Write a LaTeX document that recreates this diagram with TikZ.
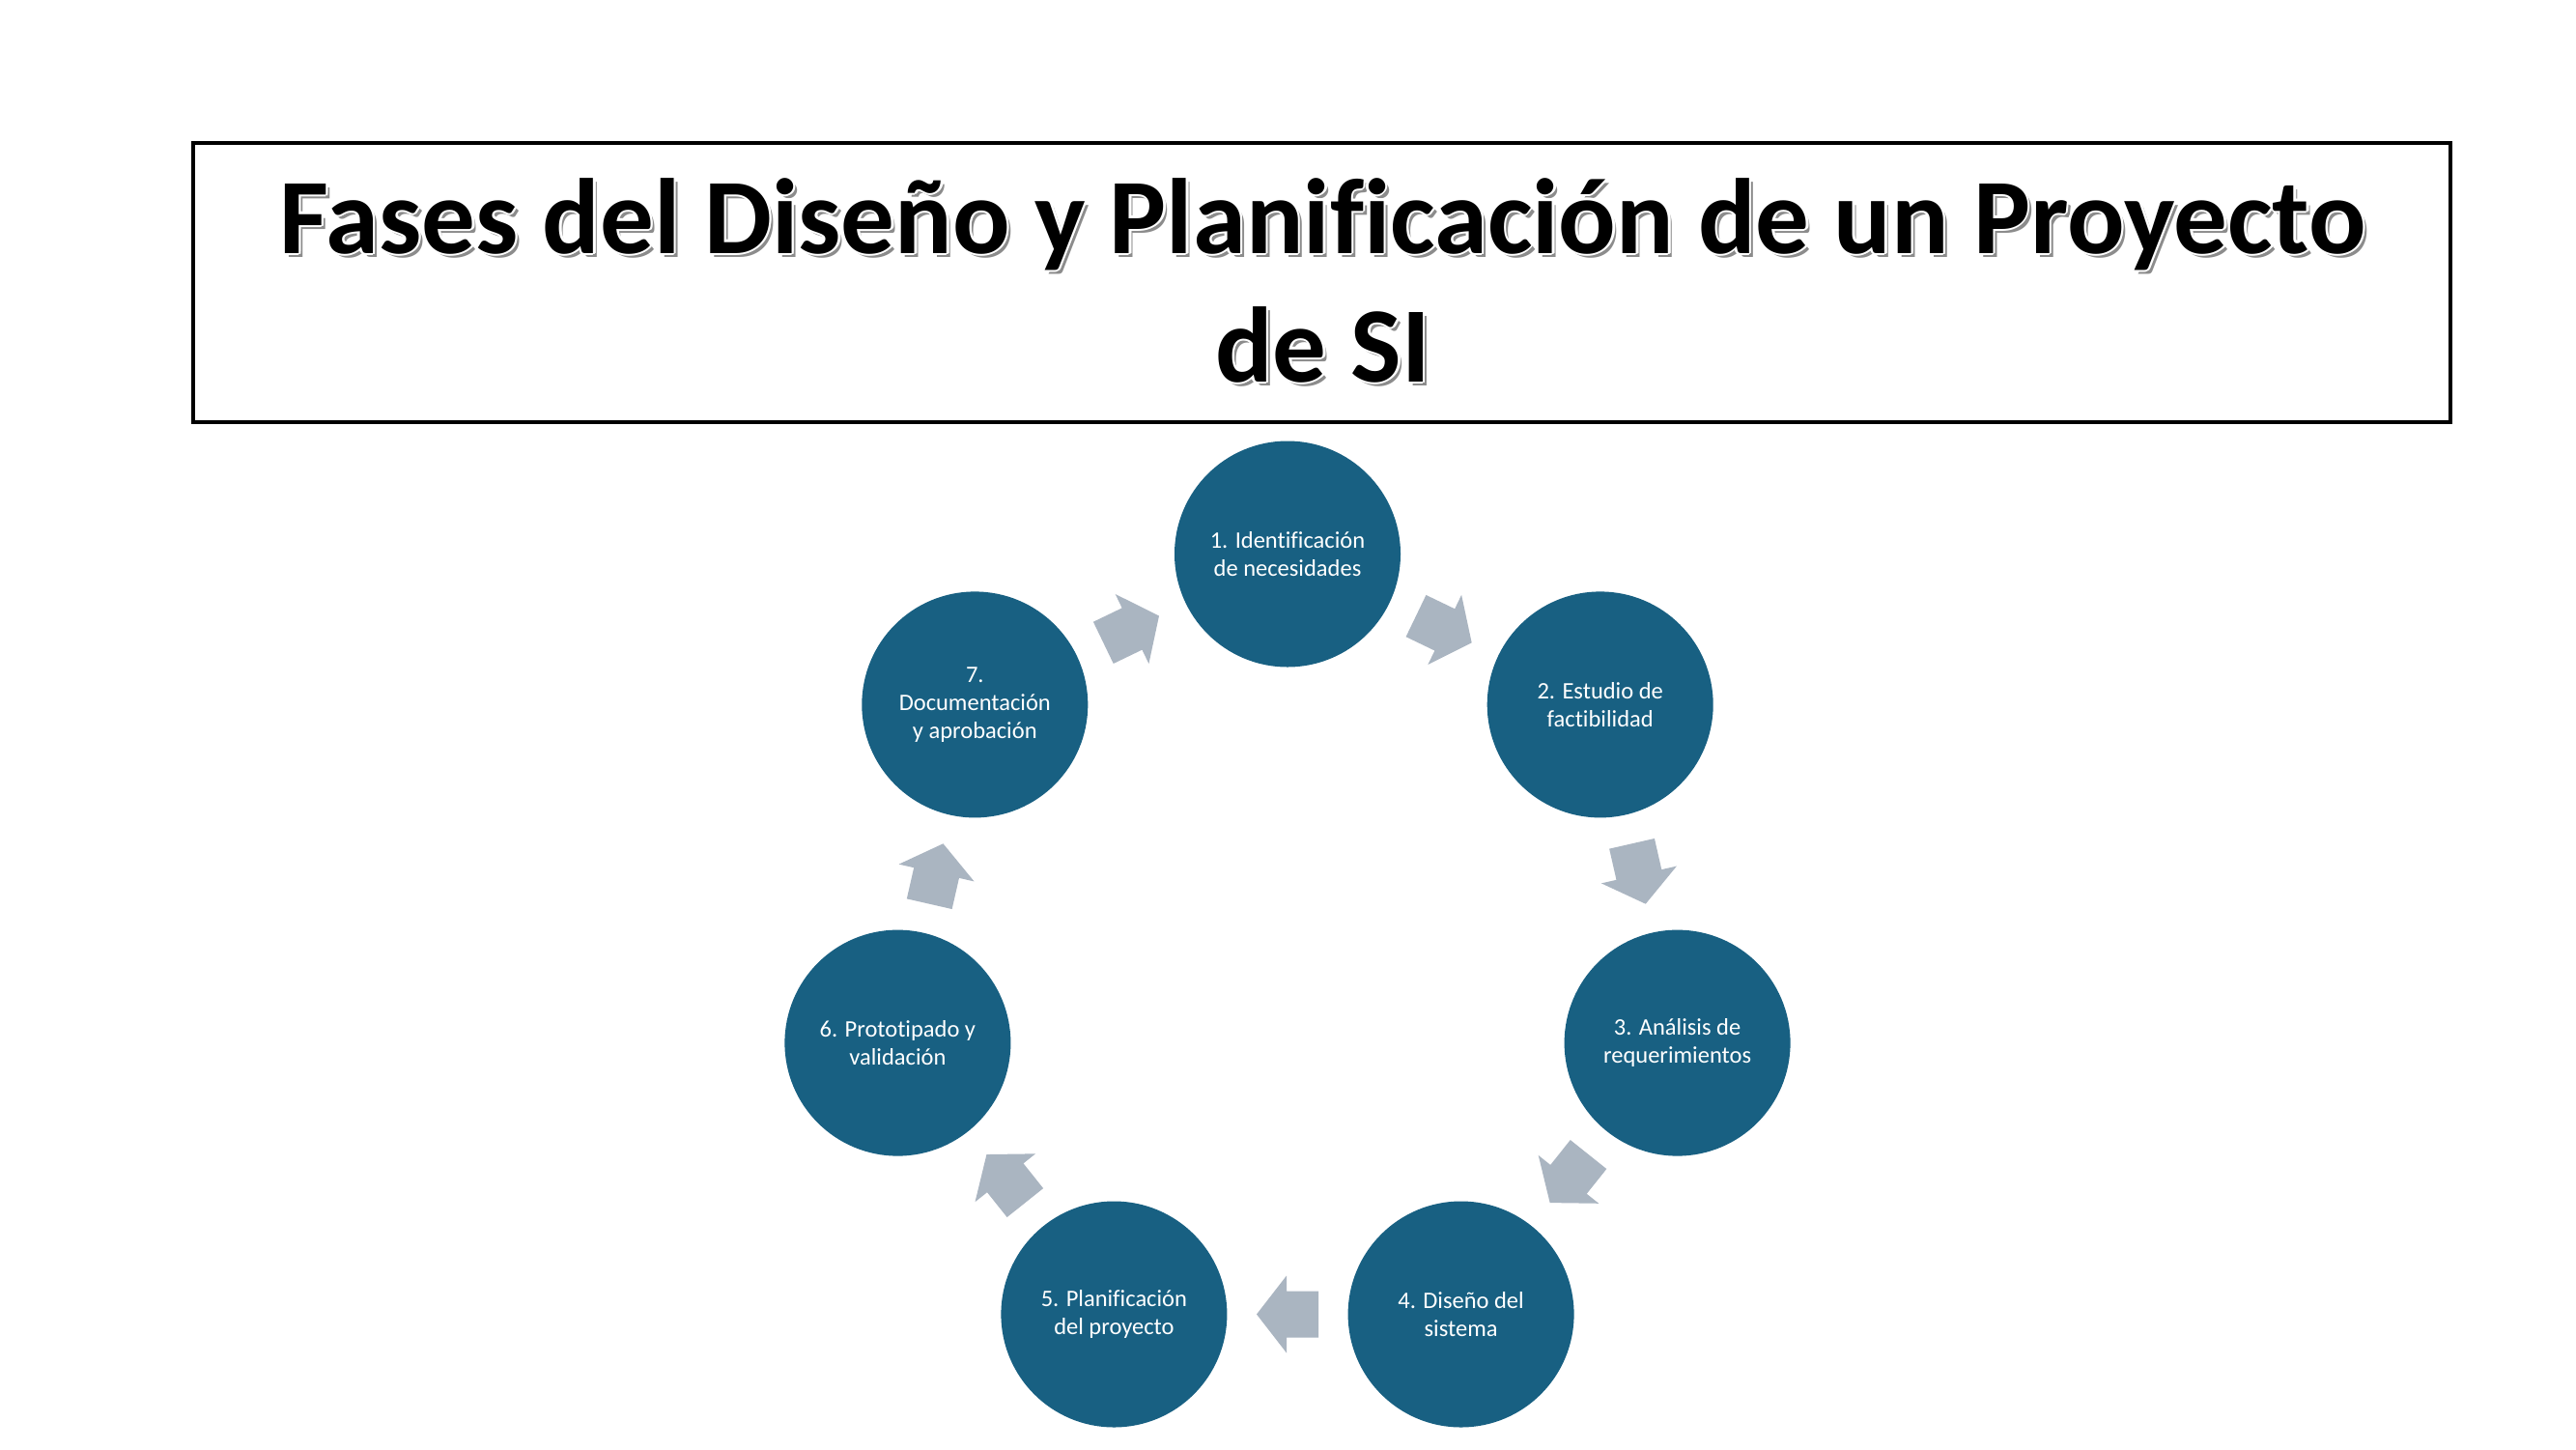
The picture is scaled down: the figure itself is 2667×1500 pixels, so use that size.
\documentclass[tikz,border=0pt]{standalone}
\usepackage{fontspec}
\setmainfont{Carlito}[Ligatures=NoCommon]
\usetikzlibrary{calc}
\definecolor{circfill}{HTML}{186082}
\definecolor{arrfill}{HTML}{AAB5C1}
\definecolor{shadowgray}{HTML}{8C8C8C}
\tikzset{
  phase/.style={circle, fill=circfill, minimum size=234pt, inner sep=0pt,
    text=white, align=center, font=\fontsize{24.5}{29}\selectfont},
  titletext/.style={anchor=base, inner sep=0pt,
    font=\fontsize{111}{133}\selectfont\bfseries},
  arrowshape/.style={fill=arrfill},
  titlebox/.style={draw=black, line width=4pt, minimum width=2337pt,
    minimum height=289pt, inner sep=0pt}
}
\newcommand\cyclearrow[3]{%
  \coordinate (#3) at ($(#1)!0.5!(#2)$);
  \fill[arrowshape]
    ($(#3)!32pt!(#1)!24pt!90:(#2)$) --
    ($(#3)!1pt!(#2)!24pt!90:(#2)$) --
    ($(#3)!1pt!(#2)!40pt!90:(#2)$) --
    ($(#3)!32pt!(#2)$) --
    ($(#3)!1pt!(#2)!40pt!-90:(#2)$) --
    ($(#3)!1pt!(#2)!24pt!-90:(#2)$) --
    ($(#3)!32pt!(#1)!24pt!-90:(#2)$) -- cycle;
}
\newcommand\shadowline[3]{% name, position, text
  \node[titletext, text=shadowgray] (#1s) at ($#2+(4,4)$) {#3};
  \foreach \dx/\dy [count=\i] in {2.5/0,-2.5/0,0/2.5,0/-2.5,1.8/1.8,-1.8/1.8,1.8/-1.8,-1.8/-1.8}{
    \node[titletext, text=white] (#1w\i) at ($#2+(\dx,\dy)$) {#3};
  }
  \node[titletext, text=black] (#1) at #2 {#3};
}
\begin{document}
\begin{tikzpicture}[x=1pt,y=-1pt]
\useasboundingbox (0,0) rectangle (2667,1500);
\fill[white] (0,0) rectangle (2667,1500);

% title
\node[titlebox] (box) at (1368.5,292.5) {};
\shadowline{tl1}{(1369.5,262)}{Fases del Diseño y Planificación de un Proyecto}
\shadowline{tl2}{(1369.5,395)}{de SI}

% phases
\node[phase] (n1) at (1333,573.5) {1. Identificación\\de necesidades};
\node[phase] (n2) at (1656.7,729.4) {2. Estudio de\\factibilidad};
\node[phase] (n3) at (1736.6,1079.6) {3. Análisis de\\requerimientos};
\node[phase] (n4) at (1512.6,1360.5) {4. Diseño del\\sistema};
\node[phase] (n5) at (1153.4,1360.5) {5. Planificación\\del proyecto};
\node[phase] (n6) at (929.4,1079.6) {6. Prototipado y\\validación};
\node[phase] (n7) at (1009.3,729.4) {7.\\Documentación\\y aprobación};

% arrows
\cyclearrow{n1}{n2}{m12}
\cyclearrow{n2}{n3}{m23}
\cyclearrow{n3}{n4}{m34}
\cyclearrow{n4}{n5}{m45}
\cyclearrow{n5}{n6}{m56}
\cyclearrow{n6}{n7}{m67}
\cyclearrow{n7}{n1}{m71}
\end{tikzpicture}
\end{document}
